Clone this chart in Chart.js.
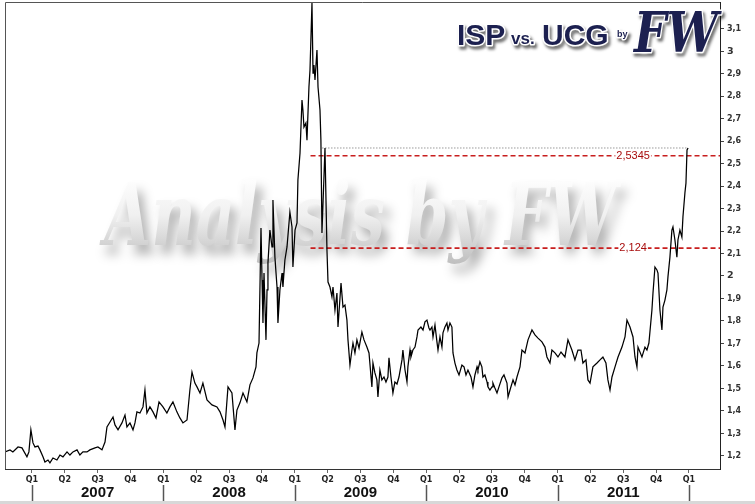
<!DOCTYPE html>
<html><head><meta charset="utf-8">
<script src="https://cdn.jsdelivr.net/npm/chart.js@4.4.0/dist/chart.umd.min.js"></script>
<style>html,body{margin:0;padding:0;background:#fff}canvas{display:block}</style>
</head><body>
<canvas id="c" width="755" height="504"></canvas>
<script>
// ---- data (decimal years / ISP÷UCG ratio) ----
const dates = [
2006.795,2006.833,2006.855,2006.894,2006.924,2006.962,2006.977,2006.992,2007.008,2007.023,
2007.046,2007.061,2007.084,2007.099,2007.122,2007.137,2007.160,2007.190,2007.213,2007.236,
2007.267,2007.289,2007.312,2007.343,2007.365,2007.388,2007.419,2007.441,2007.480,2007.502,
2007.533,2007.556,2007.571,2007.594,2007.617,2007.632,2007.655,2007.685,2007.708,2007.723,
2007.746,2007.769,2007.784,2007.799,2007.822,2007.845,2007.860,2007.875,2007.898,2007.921,
2007.944,2007.967,2007.997,2008.027,2008.050,2008.073,2008.103,2008.126,2008.149,2008.180,
2008.202,2008.218,2008.240,2008.256,2008.279,2008.301,2008.332,2008.370,2008.408,2008.431,
2008.454,2008.469,2008.492,2008.522,2008.545,2008.560,2008.583,2008.606,2008.636,2008.659,
2008.682,2008.705,2008.712,2008.728,2008.743,2008.751,2008.758,2008.766,2008.781,2008.789,
2008.796,2008.811,2008.827,2008.834,2008.849,2008.865,2008.872,2008.887,2008.903,2008.910,
2008.925,2008.941,2008.963,2008.979,2008.986,2009.002,2009.017,2009.024,2009.040,2009.055,
2009.062,2009.070,2009.085,2009.093,2009.108,2009.116,2009.131,2009.139,2009.146,2009.154,
2009.169,2009.177,2009.192,2009.199,2009.207,2009.230,2009.245,2009.253,2009.268,2009.283,
2009.291,2009.306,2009.321,2009.329,2009.352,2009.367,2009.382,2009.397,2009.405,2009.420,
2009.435,2009.443,2009.458,2009.473,2009.489,2009.511,2009.527,2009.549,2009.565,2009.587,
2009.595,2009.610,2009.625,2009.633,2009.648,2009.663,2009.679,2009.694,2009.709,2009.717,
2009.732,2009.747,2009.762,2009.778,2009.793,2009.816,2009.823,2009.839,2009.854,2009.861,
2009.877,2009.884,2009.899,2009.915,2009.930,2009.938,2009.960,2009.976,2009.991,2010.006,
2010.021,2010.029,2010.044,2010.052,2010.067,2010.082,2010.090,2010.105,2010.120,2010.128,
2010.143,2010.158,2010.166,2010.181,2010.196,2010.204,2010.219,2010.234,2010.250,2010.272,
2010.288,2010.303,2010.318,2010.341,2010.356,2010.371,2010.387,2010.394,2010.409,2010.424,
2010.432,2010.447,2010.463,2010.470,2010.485,2010.501,2010.508,2010.523,2010.539,2010.554,
2010.577,2010.592,2010.615,2010.623,2010.638,2010.661,2010.676,2010.691,2010.714,2010.729,
2010.752,2010.775,2010.805,2010.828,2010.851,2010.881,2010.904,2010.919,2010.942,2010.957,
2010.980,2011.003,2011.026,2011.056,2011.079,2011.109,2011.132,2011.155,2011.178,2011.193,
2011.216,2011.231,2011.247,2011.269,2011.300,2011.323,2011.345,2011.368,2011.383,2011.399,
2011.414,2011.437,2011.460,2011.490,2011.513,2011.528,2011.551,2011.574,2011.589,2011.604,
2011.612,2011.642,2011.665,2011.680,2011.695,2011.718,2011.726,2011.741,2011.756,2011.764,
2011.779,2011.794,2011.802,2011.817,2011.832,2011.840,2011.855,2011.870,2011.878,2011.893,
2011.908,2011.916,2011.931,2011.946,2011.954,2011.969,2011.977,2011.985,2011.993];

const ratio = [
1.218,1.227,1.218,1.240,1.236,1.196,1.218,1.316,1.258,1.240,
1.244,1.227,1.196,1.173,1.182,1.169,1.191,1.182,1.204,1.196,
1.218,1.204,1.218,1.227,1.204,1.218,1.218,1.227,1.236,1.240,
1.227,1.262,1.329,1.351,1.373,1.338,1.316,1.347,1.382,1.329,
1.347,1.316,1.347,1.396,1.391,1.418,1.493,1.391,1.418,1.396,
1.369,1.440,1.418,1.391,1.418,1.440,1.396,1.369,1.347,1.360,
1.493,1.573,1.524,1.507,1.480,1.524,1.449,1.427,1.418,1.396,
1.360,1.329,1.507,1.480,1.316,1.404,1.436,1.480,1.440,1.516,
1.547,1.596,1.658,1.702,2.213,1.982,1.791,2.013,1.716,1.938,
2.058,2.204,2.129,2.338,2.084,1.951,1.791,1.938,2.013,1.951,
2.071,2.129,2.284,2.218,2.040,2.204,2.236,2.427,2.547,2.782,
2.738,2.662,2.680,2.604,2.840,2.916,3.213,2.902,2.938,2.871,
3.004,2.840,2.738,2.604,2.191,2.569,2.116,1.973,1.951,1.907,
1.951,1.849,1.924,1.773,1.969,1.862,1.871,1.804,1.716,1.604,
1.671,1.702,1.658,1.716,1.680,1.751,1.716,1.684,1.658,1.507,
1.613,1.569,1.538,1.462,1.582,1.538,1.551,1.529,1.551,1.636,
1.551,1.480,1.529,1.520,1.551,1.627,1.671,1.582,1.529,1.596,
1.671,1.640,1.671,1.684,1.729,1.760,1.773,1.760,1.796,1.804,
1.769,1.760,1.773,1.729,1.782,1.707,1.671,1.729,1.684,1.747,
1.773,1.791,1.760,1.791,1.773,1.658,1.613,1.582,1.560,1.604,
1.596,1.560,1.582,1.551,1.507,1.560,1.596,1.582,1.618,1.596,
1.551,1.560,1.529,1.507,1.493,1.507,1.524,1.502,1.480,1.507,
1.547,1.560,1.524,1.462,1.493,1.538,1.516,1.551,1.596,1.671,
1.658,1.716,1.760,1.738,1.724,1.707,1.684,1.640,1.613,1.671,
1.658,1.640,1.662,1.640,1.716,1.671,1.627,1.671,1.671,1.613,
1.627,1.538,1.524,1.596,1.613,1.627,1.640,1.613,1.538,1.493,
1.551,1.596,1.640,1.684,1.729,1.804,1.773,1.729,1.640,1.596,
1.684,1.640,1.684,1.671,1.702,1.849,1.924,2.040,2.027,2.013,
1.849,1.760,1.862,1.893,1.938,1.996,2.084,2.204,2.218,2.160,
2.084,2.160,2.204,2.173,2.262,2.369,2.413,2.560,2.569];

const quarterTicks = [2007,2007.25,2007.5,2007.75,2008,2008.25,2008.5,2008.75,2009,2009.25,2009.5,2009.75,
                      2010,2010.25,2010.5,2010.75,2011,2011.25,2011.5,2011.75,2012];
const quarterNames = ['Q1','Q2','Q3','Q4'];
const yearStarts = [2007,2008,2009,2010,2011,2012];
const yearLabels = ['2007','2008','2009','2010','2011'];
const yTicks = [1.2,1.3,1.4,1.5,1.6,1.7,1.8,1.9,2,2.1,2.2,2.3,2.4,2.5,2.6,2.7,2.8,2.9,3,3.1];
const resistLevel = 2.5345;
const supportLevel = 2.124;
const peakLevel = 2.569;
const levelLineStart = 2009.12;
const peakLineStart = 2009.21;
const peakLineEnd = 2011.98;
const levelLabelAt = 2011.575;
const xMin = 2006.795, xMax = 2012.236;
const yMin = 1.142, yMax = 3.218;

const fmt = v => Math.abs(v - Math.round(v)) < 1e-9 ? String(Math.round(v)) : v.toFixed(1).replace('.', ',');

const frame = {
  id: 'frame',
  beforeDatasetsDraw(chart) {
    const {ctx, chartArea: a} = chart;
    ctx.save();
    // watermark
    ctx.font = 'bold italic 86px "DejaVu Serif", serif';
    const txt = 'Analysis by FW';
    const w = ctx.measureText(txt).width;
    const cx = a.left + (a.right - a.left) * 0.497;
    ctx.translate(cx, a.top + 243);
    ctx.scale(512 / w, 1);
    const g = ctx.createLinearGradient(0, -70, 0, 20);
    g.addColorStop(0, '#ffffff'); g.addColorStop(0.45, '#f0f0f0'); g.addColorStop(1, '#bdbdbd');
    ctx.shadowColor = 'rgba(0,0,0,0.32)'; ctx.shadowBlur = 11; ctx.shadowOffsetX = 6; ctx.shadowOffsetY = 9;
    ctx.fillStyle = g; ctx.textAlign = 'center'; ctx.textBaseline = 'alphabetic';
    ctx.fillText(txt, 0, 0);
    ctx.restore();
  },
  afterDatasetsDraw(chart) {
    const {ctx, scales: {x, y}} = chart;
    ctx.save();
    ctx.font = '11px "Liberation Sans", Arial, sans-serif';
    ctx.textAlign = 'center'; ctx.textBaseline = 'middle';
    [resistLevel, supportLevel].forEach(lv => {
      const t = String(lv).replace('.', ',');
      const px = x.getPixelForValue(levelLabelAt), py = y.getPixelForValue(lv);
      const w = ctx.measureText(t).width;
      ctx.fillStyle = '#fff'; ctx.fillRect(px - w / 2 - 1, py - 5, w + 2, 10);
      ctx.fillStyle = '#a80c0c'; ctx.fillText(t, px, py);
    });
    ctx.restore();
  },
  afterDraw(chart) {
    const {ctx, chartArea: a, scales: {x}} = chart;
    ctx.save();
    // frame top/left
    ctx.strokeStyle = '#555'; ctx.lineWidth = 1;
    ctx.beginPath();
    ctx.moveTo(a.left + 0.5, a.bottom); ctx.lineTo(a.left + 0.5, a.top + 0.5); ctx.lineTo(a.right, a.top + 0.5);
    ctx.stroke();
    // year separators and labels
    ctx.strokeStyle = '#555'; ctx.lineWidth = 1.5;
    yearStarts.forEach(v => {
      const px = Math.round(x.getPixelForValue(v)) + 0.5;
      ctx.beginPath(); ctx.moveTo(px, a.bottom + 16); ctx.lineTo(px, a.bottom + 32); ctx.stroke();
    });
    ctx.font = 'bold 15px "Liberation Sans", Arial, sans-serif';
    ctx.fillStyle = '#111'; ctx.textAlign = 'center'; ctx.textBaseline = 'middle';
    yearLabels.forEach((lab, i) => {
      const px = (x.getPixelForValue(yearStarts[i]) + x.getPixelForValue(yearStarts[i + 1])) / 2;
      ctx.fillText(lab, px, a.bottom + 24);
    });
    // bottom band
    ctx.fillStyle = '#d8d8d8'; ctx.fillRect(0, chart.height - 3, chart.width, 3);
    // title
    const navy = '#1c2050';
    const piece = (t, font, px, py, mw) => {
      ctx.font = font;
      ctx.textAlign = 'left'; ctx.textBaseline = 'alphabetic';
      ctx.save();
      ctx.shadowColor = 'rgba(0,0,0,0.6)'; ctx.shadowBlur = 3; ctx.shadowOffsetX = 2; ctx.shadowOffsetY = 3;
      ctx.lineJoin = 'round'; ctx.strokeStyle = '#fff'; ctx.lineWidth = 3;
      mw ? ctx.strokeText(t, px, py, mw) : ctx.strokeText(t, px, py);
      ctx.restore();
      ctx.fillStyle = navy;
      mw ? ctx.fillText(t, px, py, mw) : ctx.fillText(t, px, py);
    };
    piece('ISP', 'bold 30px "Liberation Sans", Arial, sans-serif', 457, 45);
    piece('vs.', 'bold 17px "Liberation Sans", Arial, sans-serif', 511, 44);
    piece('UCG', 'bold 30px "Liberation Sans", Arial, sans-serif', 542, 45);
    piece('by', 'bold 9px "Liberation Sans", Arial, sans-serif', 617, 37);
    piece('FW', 'bold italic 56px "DejaVu Serif", serif', 634, 52, 84);
    ctx.restore();
  }
};

new Chart(document.getElementById('c'), {
  type: 'line',
  data: {
    datasets: [
      { data: dates.map((d, i) => ({x: d, y: ratio[i]})), borderColor: '#000', borderWidth: 1.25,
        pointRadius: 0, tension: 0, fill: false },
      { data: [{x: levelLineStart, y: resistLevel}, {x: xMax, y: resistLevel}], borderColor: '#c81e1e',
        borderWidth: 1.6, borderDash: [5, 3], pointRadius: 0 },
      { data: [{x: levelLineStart, y: supportLevel}, {x: xMax, y: supportLevel}], borderColor: '#c81e1e',
        borderWidth: 1.6, borderDash: [5, 3], pointRadius: 0 },
      { data: [{x: peakLineStart, y: peakLevel}, {x: peakLineEnd, y: peakLevel}], borderColor: '#666',
        borderWidth: 1, borderDash: [1, 2], pointRadius: 0 }
    ]
  },
  options: {
    responsive: false, devicePixelRatio: 1, animation: false, events: [],
    layout: { padding: { left: 5, top: 2, right: 0, bottom: 0 } },
    plugins: { legend: { display: false }, tooltip: { enabled: false } },
    scales: {
      x: {
        type: 'linear', position: 'bottom', min: xMin, max: xMax,
        afterBuildTicks: s => { s.ticks = quarterTicks.map(v => ({value: v})); },
        afterFit: s => { s.height = 35; s.paddingLeft = 0; s.paddingRight = 0; },
        ticks: {
          autoSkip: false, maxRotation: 0, padding: 2, color: '#222',
          font: { family: '"DejaVu Sans", Verdana, sans-serif', size: 8, weight: 'bold' },
          callback: v => quarterNames[Math.round((v - Math.floor(v + 1e-9)) * 4) % 4]
        },
        grid: { drawOnChartArea: false, drawTicks: true, tickLength: 4, color: '#666' },
        border: { color: '#333', width: 1 }
      },
      y: {
        type: 'linear', position: 'right', min: yMin, max: yMax,
        afterBuildTicks: s => { s.ticks = yTicks.map(v => ({value: v})); },
        afterFit: s => { s.width = 35; s.paddingTop = 0; s.paddingBottom = 0; },
        ticks: {
          padding: 3, color: '#333',
          font: c => (c.tick && Math.abs(c.tick.value - Math.round(c.tick.value)) < 1e-9)
            ? { family: '"DejaVu Sans", Verdana, sans-serif', size: 9.5, weight: 'bold' }
            : { family: '"DejaVu Sans", Verdana, sans-serif', size: 8, weight: 'bold' },
          callback: v => fmt(v)
        },
        grid: { drawOnChartArea: false, tickLength: 4, color: '#444' },
        border: { color: '#222', width: 1 }
      }
    }
  },
  plugins: [frame]
});
</script>
</body></html>
